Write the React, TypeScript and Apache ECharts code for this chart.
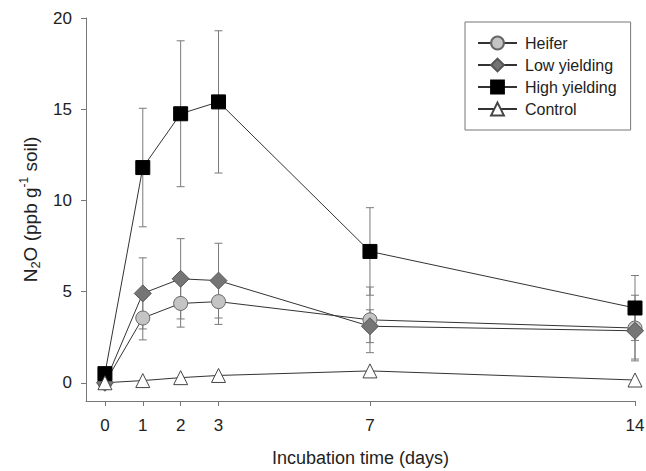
import React, { useEffect, useRef } from "react";
import * as echarts from "echarts";

const days = [0, 1, 2, 3, 7, 14];
const xTickLabels = [0, 1, 2, 3, 7, 14];
const yTickLabels = [0, 5, 10, 15, 20];

const heifer = [0, 3.55, 4.35, 4.45, 3.45, 3.0];
const heiferErr = [0, 1.2, 1.3, 1.25, 1.8, 1.8];
const lowYielding = [0, 4.9, 5.7, 5.6, 3.1, 2.85];
const lowYieldingErr = [0, 1.95, 2.2, 2.05, 0.9, 1.55];
const highYielding = [0.5, 11.8, 14.75, 15.4, 7.2, 4.1];
const highYieldingErr = [0, 3.25, 4.0, 3.9, 2.4, 1.78];
const control = [0, 0.12, 0.28, 0.4, 0.65, 0.15];
const controlErr = [0, 0, 0, 0, 0, 0];

const FONT = "'Liberation Sans', Arial, sans-serif";

function pts(vals: number[]) {
  return days.map((d, i) => [d, vals[i]]);
}
function errs(vals: number[], e: number[]) {
  return days.map((d, i) => [d, vals[i] - e[i], vals[i] + e[i]]);
}

const errorSeries = (name: string, vals: number[], e: number[]) => ({
  type: "custom",
  name: name + " err",
  z: 1,
  silent: true,
  data: errs(vals, e).filter((r) => r[2] - r[1] > 0),
  renderItem: (params: any, api: any) => {
    const x = api.value(0);
    const lo = api.coord([x, api.value(1)]);
    const hi = api.coord([x, api.value(2)]);
    const w = 4;
    const style = { stroke: "#7a7a7a", lineWidth: 1 };
    return {
      type: "group",
      children: [
        { type: "line", shape: { x1: lo[0], y1: lo[1], x2: hi[0], y2: hi[1] }, style },
        { type: "line", shape: { x1: lo[0] - w, y1: lo[1], x2: lo[0] + w, y2: lo[1] }, style },
        { type: "line", shape: { x1: hi[0] - w, y1: hi[1], x2: hi[0] + w, y2: hi[1] }, style },
      ],
    };
  },
});

const lineSeries = (
  name: string,
  vals: number[],
  symbol: string,
  size: number | number[],
  fill: string,
  border: string
) => ({
  type: "line",
  name,
  z: 3,
  data: pts(vals),
  symbol,
  symbolSize: size,
  showAllSymbol: true,
  lineStyle: { color: "#333", width: 1 },
  itemStyle: { color: fill, borderColor: border, borderWidth: 1, opacity: 1 },
  emphasis: { disabled: true },
});

export default function App() {
  const ref = useRef<HTMLDivElement>(null);
  useEffect(() => {
    if (!ref.current) return;
    const chart = echarts.init(ref.current, undefined, { renderer: "svg" });
    chart.setOption({
      animation: false,
      backgroundColor: "#fff",
      grid: { left: 86, right: 11, top: 18, bottom: 70, outerBoundsMode: "none" },
      legend: {
        left: 465,
        top: 22,
        orient: "vertical",
        padding: [13, 14, 13, 12],
        itemWidth: 39,
        itemHeight: 16,
        itemGap: 6,
        borderColor: "#777",
        borderWidth: 1,
        backgroundColor: "#fff",
        textStyle: { fontFamily: FONT, fontSize: 16, color: "#222", padding: [0, 0, 0, 3] },
        data: ["Heifer", "Low yielding", "High yielding", "Control"],
      },
      xAxis: {
        type: "value",
        min: -0.5,
        max: 14,
        name: "Incubation time (days)",
        nameLocation: "middle",
        nameGap: 48,
        nameTextStyle: { fontFamily: FONT, fontSize: 18, color: "#222" },
        axisLine: { show: true, onZero: false, lineStyle: { color: "#777", width: 1 } },
        axisTick: { show: true, length: 5, customValues: xTickLabels, lineStyle: { color: "#777" } },
        axisLabel: {
          customValues: xTickLabels,
          fontFamily: FONT,
          fontSize: 17,
          color: "#222",
          margin: 16,
        },
        splitLine: { show: false },
      },
      yAxis: {
        type: "value",
        min: -1,
        max: 20,
        name: "{a|N}{sub|2}{a|O (ppb g}{sup|-1}{a| soil)}",
        nameLocation: "middle",
        nameRotate: 90,
        nameGap: 43,
        nameTextStyle: {
          fontFamily: FONT,
          fontSize: 19,
          color: "#222",
          rich: {
            a: { fontFamily: FONT, fontSize: 19, color: "#222", lineHeight: 24 },
            sub: { fontFamily: FONT, fontSize: 13, color: "#222", lineHeight: 12, verticalAlign: "bottom" },
            sup: { fontFamily: FONT, fontSize: 12, color: "#222", lineHeight: 12, verticalAlign: "top" },
          },
        },
        axisLine: { show: true, onZero: false, lineStyle: { color: "#777", width: 1 } },
        axisTick: { show: true, length: 5, customValues: yTickLabels, lineStyle: { color: "#777" } },
        axisLabel: {
          customValues: yTickLabels,
          fontFamily: FONT,
          fontSize: 17,
          color: "#222",
          margin: 14,
        },
        splitLine: { show: false },
      },
      series: [
        errorSeries("Heifer", heifer, heiferErr),
        errorSeries("Low yielding", lowYielding, lowYieldingErr),
        errorSeries("High yielding", highYielding, highYieldingErr),
        errorSeries("Control", control, controlErr),
        lineSeries("Heifer", heifer, "circle", 14, "#c4c4c4", "#666"),
        lineSeries("Low yielding", lowYielding, "diamond", 17, "#757575", "#555"),
        lineSeries("High yielding", highYielding, "rect", 14, "#000", "#000"),
        lineSeries("Control", control, "triangle", 14, "#fff", "#444"),
      ],
    });
    return () => chart.dispose();
  }, []);
  return (
    <div
      ref={ref}
      style={{ position: "fixed", left: 0, top: 0, width: 646, height: 471, background: "#fff" }}
    />
  );
}
